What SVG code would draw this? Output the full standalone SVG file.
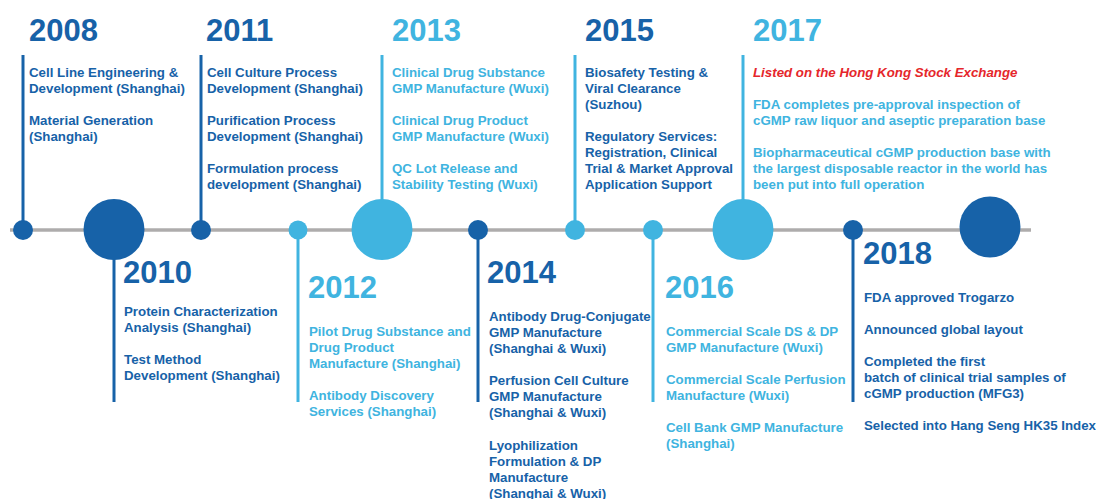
<svg xmlns="http://www.w3.org/2000/svg" width="1096" height="499" viewBox="0 0 1096 499">
  <style>
    .yr { font-family: "Liberation Sans", Arial, sans-serif; font-weight: bold; font-size: 31px; }
    .tx { font-family: "Liberation Sans", Arial, sans-serif; font-weight: bold; font-size: 13.3px; }
    .dk { fill: #1762a8; }
    .lt { fill: #40b4e0; }
    .red { fill: #e5262b; font-style: italic; }
    .stem-dk { stroke: #1762a8; stroke-width: 3; }
    .stem-lt { stroke: #40b4e0; stroke-width: 3; }
  </style>

  <!-- timeline axis -->
  <g id="connectors">
    <line x1="10" y1="230" x2="1031" y2="230" stroke="#aeacac" stroke-width="3.5"/>
  </g>

  <!-- 2008 -->
  <g id="y2008">
    <line class="stem-dk" x1="23" y1="55" x2="23" y2="230"/>
    <circle class="dk" cx="23" cy="230" r="10"/>
    <text class="yr dk" x="29" y="41">2008</text>
    <text class="tx dk" x="29" y="77">Cell Line Engineering &amp;</text>
    <text class="tx dk" x="29" y="93">Development (Shanghai)</text>
    <text class="tx dk" x="29" y="125">Material Generation</text>
    <text class="tx dk" x="29" y="141">(Shanghai)</text>
  </g>

  <!-- 2010 -->
  <g id="y2010">
    <line class="stem-dk" x1="114" y1="230" x2="114" y2="402"/>
    <circle class="dk" cx="114" cy="229.5" r="30.5"/>
    <text class="yr dk" x="123" y="283">2010</text>
    <text class="tx dk" x="124" y="316">Protein Characterization</text>
    <text class="tx dk" x="124" y="332">Analysis (Shanghai)</text>
    <text class="tx dk" x="124" y="364">Test Method</text>
    <text class="tx dk" x="124" y="380">Development (Shanghai)</text>
  </g>

  <!-- 2011 -->
  <g id="y2011">
    <line class="stem-dk" x1="201" y1="55" x2="201" y2="230"/>
    <circle class="dk" cx="201" cy="230" r="10"/>
    <text class="yr dk" x="206" y="41">2011</text>
    <text class="tx dk" x="207" y="77">Cell Culture Process</text>
    <text class="tx dk" x="207" y="93">Development (Shanghai)</text>
    <text class="tx dk" x="207" y="125">Purification Process</text>
    <text class="tx dk" x="207" y="141">Development (Shanghai)</text>
    <text class="tx dk" x="207" y="173">Formulation process</text>
    <text class="tx dk" x="207" y="189">development (Shanghai)</text>
  </g>

  <!-- 2012 -->
  <g id="y2012">
    <line class="stem-lt" x1="298" y1="230" x2="298" y2="402"/>
    <circle class="lt" cx="298" cy="230" r="9.5"/>
    <text class="yr lt" x="308" y="298">2012</text>
    <text class="tx lt" x="309" y="336">Pilot Drug Substance and</text>
    <text class="tx lt" x="309" y="352">Drug Product</text>
    <text class="tx lt" x="309" y="368">Manufacture (Shanghai)</text>
    <text class="tx lt" x="309" y="400">Antibody Discovery</text>
    <text class="tx lt" x="309" y="416">Services (Shanghai)</text>
  </g>

  <!-- 2013 -->
  <g id="y2013">
    <line class="stem-lt" x1="382" y1="55" x2="382" y2="230"/>
    <circle class="lt" cx="382" cy="229.5" r="30.5"/>
    <text class="yr lt" x="392" y="41">2013</text>
    <text class="tx lt" x="392" y="77">Clinical Drug Substance</text>
    <text class="tx lt" x="392" y="93">GMP Manufacture (Wuxi)</text>
    <text class="tx lt" x="392" y="125">Clinical Drug Product</text>
    <text class="tx lt" x="392" y="141">GMP Manufacture (Wuxi)</text>
    <text class="tx lt" x="392" y="173">QC Lot Release and</text>
    <text class="tx lt" x="392" y="189">Stability Testing (Wuxi)</text>
  </g>

  <!-- 2014 -->
  <g id="y2014">
    <line class="stem-dk" x1="478" y1="230" x2="478" y2="402"/>
    <circle class="dk" cx="478" cy="230" r="10"/>
    <text class="yr dk" x="487" y="283">2014</text>
    <text class="tx dk" x="489" y="321">Antibody Drug-Conjugate</text>
    <text class="tx dk" x="489" y="337">GMP Manufacture</text>
    <text class="tx dk" x="489" y="353">(Shanghai &amp; Wuxi)</text>
    <text class="tx dk" x="489" y="385">Perfusion Cell Culture</text>
    <text class="tx dk" x="489" y="401">GMP Manufacture</text>
    <text class="tx dk" x="489" y="417">(Shanghai &amp; Wuxi)</text>
    <text class="tx dk" x="489" y="450">Lyophilization</text>
    <text class="tx dk" x="489" y="466">Formulation &amp; DP</text>
    <text class="tx dk" x="489" y="482">Manufacture</text>
    <text class="tx dk" x="489" y="498">(Shanghai &amp; Wuxi)</text>
  </g>

  <!-- 2015 -->
  <g id="y2015">
    <line class="stem-lt" x1="575" y1="55" x2="575" y2="230"/>
    <circle class="lt" cx="575" cy="230" r="10"/>
    <text class="yr dk" x="585" y="41">2015</text>
    <text class="tx dk" x="585" y="77">Biosafety Testing &amp;</text>
    <text class="tx dk" x="585" y="93">Viral Clearance</text>
    <text class="tx dk" x="585" y="109">(Suzhou)</text>
    <text class="tx dk" x="585" y="141">Regulatory Services:</text>
    <text class="tx dk" x="585" y="157">Registration, Clinical</text>
    <text class="tx dk" x="585" y="173">Trial &amp; Market Approval</text>
    <text class="tx dk" x="585" y="189">Application Support</text>
  </g>

  <!-- 2016 -->
  <g id="y2016">
    <line class="stem-lt" x1="653" y1="230" x2="653" y2="402"/>
    <circle class="lt" cx="653" cy="230" r="10"/>
    <text class="yr lt" x="665" y="298">2016</text>
    <text class="tx lt" x="666" y="336">Commercial Scale DS &amp; DP</text>
    <text class="tx lt" x="666" y="352">GMP Manufacture (Wuxi)</text>
    <text class="tx lt" x="666" y="384">Commercial Scale Perfusion</text>
    <text class="tx lt" x="666" y="400">Manufacture (Wuxi)</text>
    <text class="tx lt" x="666" y="432">Cell Bank GMP Manufacture</text>
    <text class="tx lt" x="666" y="448">(Shanghai)</text>
  </g>

  <!-- 2017 -->
  <g id="y2017">
    <line class="stem-lt" x1="743" y1="55" x2="743" y2="230"/>
    <circle class="lt" cx="743" cy="229.5" r="30.5"/>
    <text class="yr lt" x="753" y="41">2017</text>
    <text class="tx red" x="753" y="77">Listed on the Hong Kong Stock Exchange</text>
    <text class="tx lt" x="753" y="109">FDA completes pre-approval inspection of</text>
    <text class="tx lt" x="753" y="125">cGMP raw liquor and aseptic preparation base</text>
    <text class="tx lt" x="753" y="157">Biopharmaceutical cGMP production base with</text>
    <text class="tx lt" x="753" y="173">the largest disposable reactor in the world has</text>
    <text class="tx lt" x="753" y="189">been put into full operation</text>
  </g>

  <!-- 2018 -->
  <g id="y2018">
    <line class="stem-dk" x1="853" y1="230" x2="853" y2="402"/>
    <circle class="dk" cx="853" cy="230" r="10"/>
    <text class="yr dk" x="863" y="264">2018</text>
    <text class="tx dk" x="864" y="302">FDA approved Trogarzo</text>
    <text class="tx dk" x="864" y="334">Announced global layout</text>
    <text class="tx dk" x="864" y="366">Completed the first</text>
    <text class="tx dk" x="864" y="382">batch of clinical trial samples of</text>
    <text class="tx dk" x="864" y="398">cGMP production (MFG3)</text>
    <text class="tx dk" x="864" y="430">Selected into Hang Seng HK35 Index</text>
  </g>

  <!-- closing marker -->
  <g id="end">
    <circle class="dk" cx="990" cy="227" r="30.5"/>
  </g>
</svg>
